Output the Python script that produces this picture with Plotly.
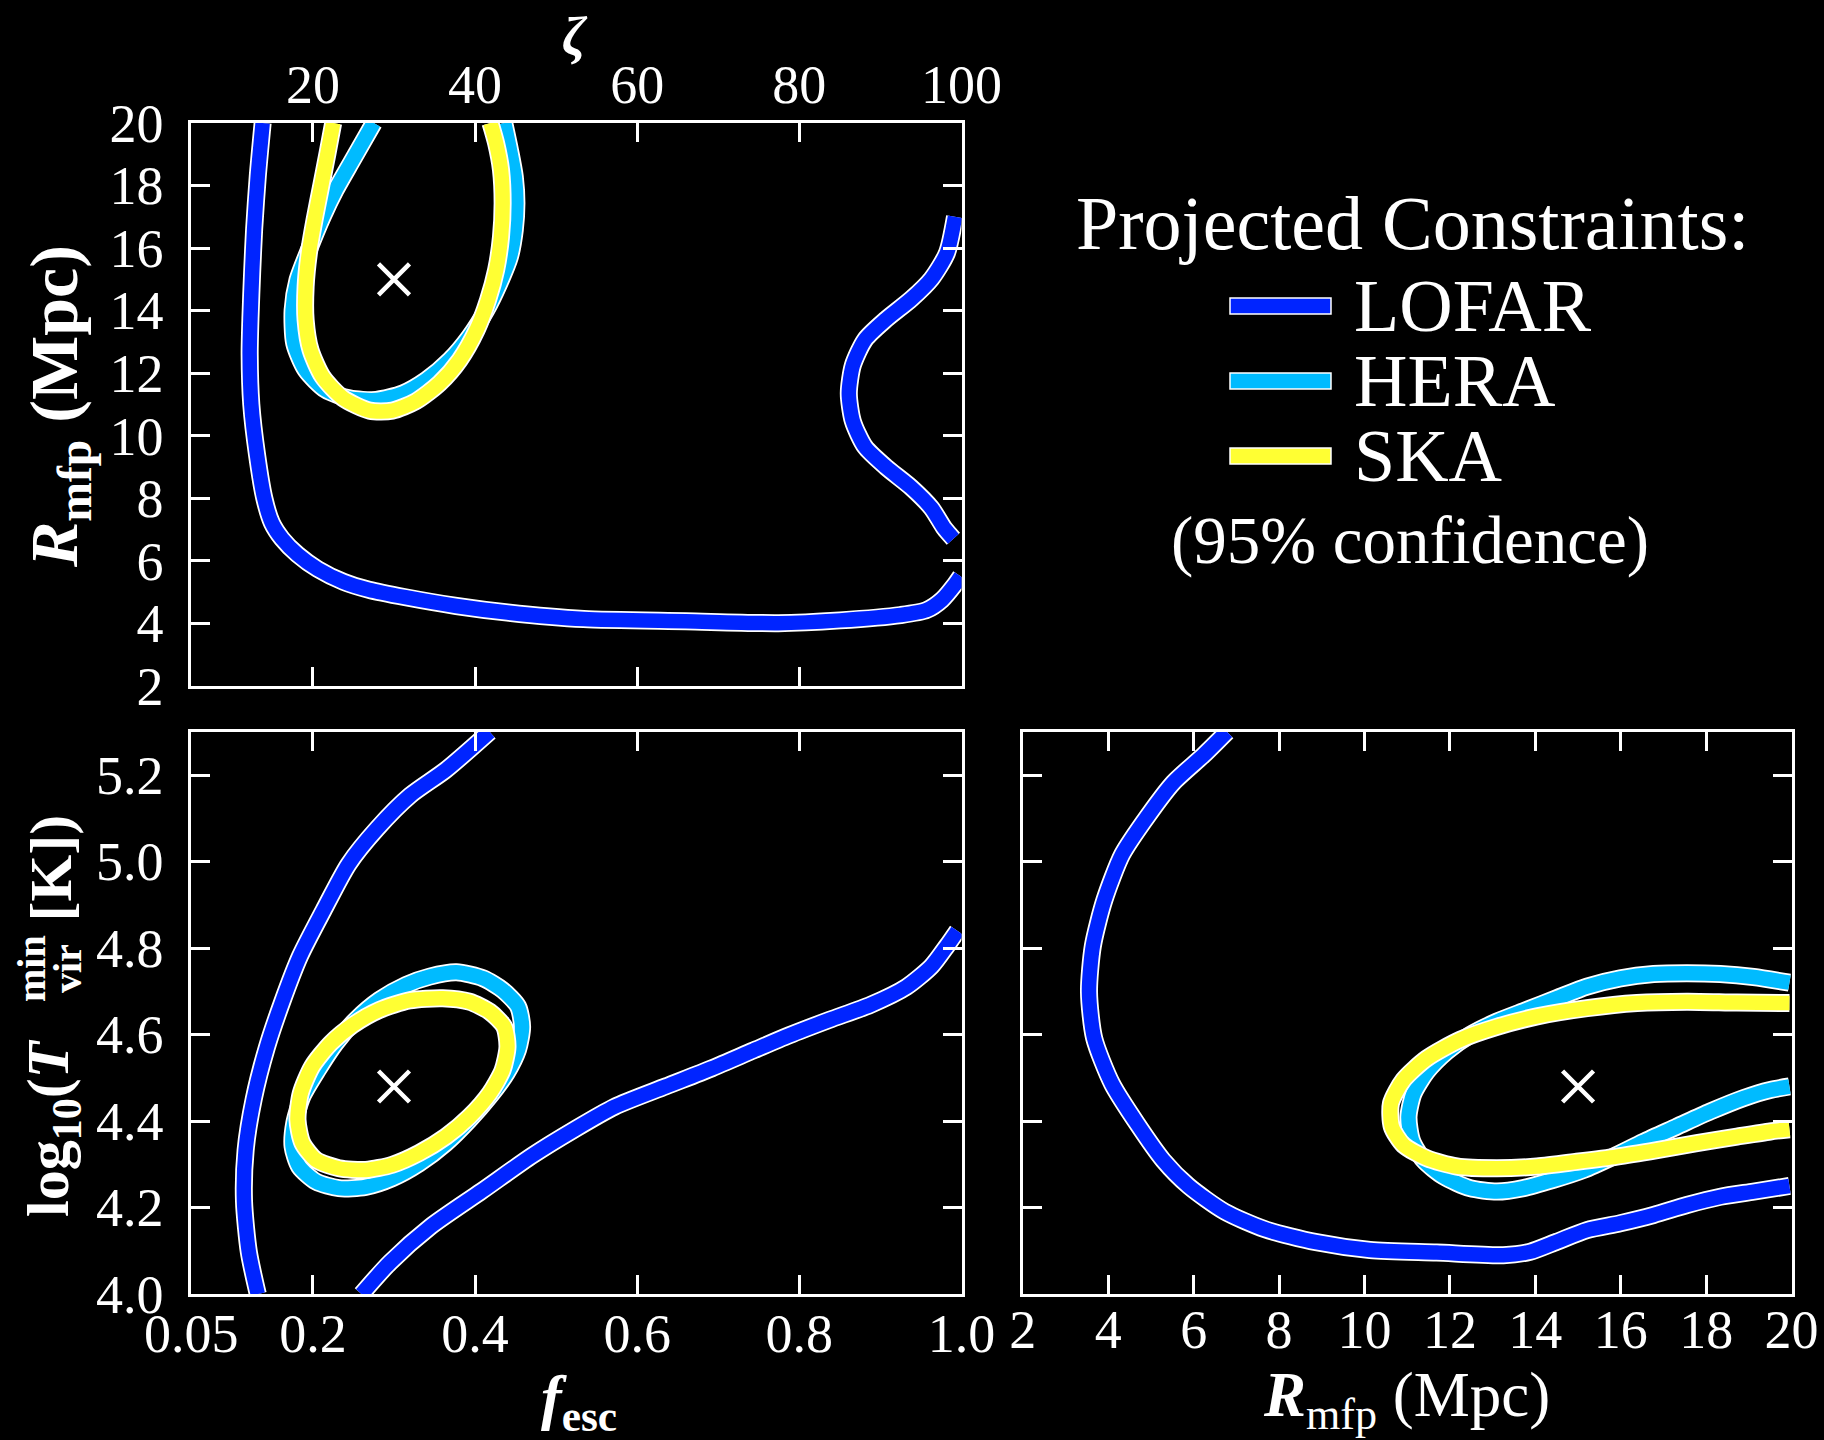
import plotly.graph_objects as go

# ---------------- data ----------------
# Top-left panel: zeta vs R_mfp (Mpc)
lofar_tl1_zeta = [13.8, 13.2, 12.75, 12.5, 12.3, 12.2, 12.4, 13.1, 14.0, 14.95, 16.2, 18.1, 20.6, 23.8, 26.9,
                  31.4, 37.7, 44.0, 53.4, 66.0, 77.4, 85.0, 92.5, 95.7, 97.6, 99.2, 99.9]
lofar_tl1_r = [20.0, 18.3, 16.6, 15.2, 13.8, 12.6, 11.0, 9.4, 8.0, 7.2, 6.7, 6.2, 5.73, 5.32, 5.07,
               4.83, 4.55, 4.34, 4.13, 4.06, 4.0, 4.09, 4.26, 4.42, 4.75, 5.24, 5.5]
lofar_tl2_zeta = [99.2, 98.2, 96.3, 93.8, 90.7, 88.1, 86.6, 86.1, 86.6, 88.1, 90.7, 93.8, 96.3, 97.9, 99.0]
lofar_tl2_r = [17.0, 15.84, 15.02, 14.37, 13.72, 13.07, 12.25, 11.35, 10.46, 9.64, 8.99, 8.34, 7.68, 7.03, 6.7]
hera_tl_zeta = [27.5, 24.9, 22.8, 21.2, 19.5, 18.1, 17.5, 17.7, 19.1, 21.6, 24.5, 27.8, 31.1, 34.0, 36.9,
                39.3, 41.4, 43.0, 44.3, 44.9, 45.1, 44.9, 44.3, 43.6]
hera_tl_r = [20.0, 18.82, 17.86, 17.0, 15.94, 14.98, 14.02, 12.95, 12.10, 11.46, 11.19, 11.14, 11.35, 11.78,
             12.42, 13.16, 14.02, 14.87, 15.72, 16.58, 17.43, 18.28, 19.14, 20.0]
ska_tl_zeta = [22.5, 21.8, 21.0, 20.2, 19.5, 19.1, 19.1, 19.7, 21.2, 23.7, 27.0, 29.8, 32.7, 35.6, 38.1,
               40.2, 41.6, 42.6, 43.2, 43.4, 43.2, 42.6, 41.9]
ska_tl_r = [20.0, 19.03, 17.96, 16.90, 15.83, 14.76, 13.70, 12.74, 11.88, 11.2, 10.8, 10.8, 11.1, 11.67,
            12.42, 13.38, 14.34, 15.30, 16.36, 17.43, 18.50, 19.35, 20.0]

# Bottom-left panel: f_esc vs log10(Tvir)
lofar_bl1_f = [0.132, 0.121, 0.115, 0.117, 0.127, 0.143, 0.162, 0.184, 0.213, 0.244, 0.279, 0.320, 0.364, 0.418]
lofar_bl1_t = [4.0, 4.097, 4.215, 4.333, 4.451, 4.569, 4.675, 4.781, 4.887, 4.994, 5.076, 5.153, 5.212, 5.30]
lofar_bl2_f = [0.26, 0.295, 0.345, 0.408, 0.471, 0.522, 0.572, 0.635, 0.692, 0.743, 0.787, 0.837, 0.888,
               0.932, 0.963, 0.982, 0.995]
lofar_bl2_t = [4.0, 4.073, 4.156, 4.238, 4.321, 4.380, 4.433, 4.480, 4.522, 4.563, 4.598, 4.634, 4.669,
               4.710, 4.758, 4.805, 4.84]
hera_bl_f = [0.377, 0.410, 0.434, 0.453, 0.458, 0.453, 0.439, 0.418, 0.393, 0.364, 0.331, 0.298, 0.265,
             0.232, 0.204, 0.183, 0.175, 0.177, 0.187, 0.206, 0.228, 0.253, 0.282, 0.315, 0.344, 0.377]
hera_bl_t = [4.744, 4.730, 4.703, 4.665, 4.618, 4.565, 4.511, 4.457, 4.403, 4.349, 4.302, 4.268, 4.248,
             4.245, 4.260, 4.295, 4.341, 4.395, 4.457, 4.518, 4.580, 4.634, 4.680, 4.715, 4.734, 4.744]
ska_bl_f = [0.360, 0.393, 0.418, 0.436, 0.440, 0.434, 0.418, 0.393, 0.364, 0.331, 0.298, 0.265, 0.232,
            0.204, 0.187, 0.181, 0.185, 0.199, 0.222, 0.249, 0.282, 0.319, 0.360]
ska_bl_t = [4.684, 4.676, 4.653, 4.618, 4.572, 4.518, 4.464, 4.410, 4.364, 4.326, 4.299, 4.287, 4.291,
            4.310, 4.349, 4.403, 4.464, 4.526, 4.580, 4.622, 4.657, 4.679, 4.684]

# Bottom-right panel: R_mfp vs log10(Tvir)
lofar_br_r = [6.78, 6.24, 5.52, 4.93, 4.33, 3.91, 3.64, 3.55, 3.67, 4.09, 4.69, 5.29, 5.88, 6.72, 7.67, 8.87,
              10.13, 11.69, 13.25, 13.88, 14.50, 15.21, 15.99, 16.77, 17.55, 18.33, 19.11, 19.95]
lofar_br_t = [5.30, 5.247, 5.182, 5.106, 5.017, 4.911, 4.805, 4.699, 4.592, 4.486, 4.392, 4.309, 4.250, 4.191,
              4.150, 4.120, 4.102, 4.096, 4.090, 4.098, 4.121, 4.148, 4.164, 4.183, 4.206, 4.225, 4.237, 4.250]
hera_br_r = [19.95, 19.11, 18.33, 17.55, 16.77, 15.99, 15.21, 14.50, 13.80, 13.10, 12.47, 11.93, 11.46, 11.15,
             11.03, 11.11, 11.38, 11.85, 12.47, 13.10, 13.72, 14.42, 15.13, 15.83, 16.53, 17.31, 18.09, 18.87,
             19.50, 19.95]
hera_br_t = [4.720, 4.733, 4.740, 4.742, 4.740, 4.730, 4.711, 4.684, 4.657, 4.630, 4.599, 4.561, 4.514, 4.464,
             4.410, 4.356, 4.310, 4.272, 4.245, 4.237, 4.245, 4.264, 4.287, 4.318, 4.352, 4.387, 4.422, 4.453,
             4.472, 4.480]
ska_br_r = [19.95, 18.72, 17.55, 16.38, 15.21, 14.04, 13.10, 12.24, 11.46, 10.91, 10.62, 10.64, 10.91, 11.46,
            12.16, 13.10, 14.04, 14.97, 15.91, 16.85, 17.78, 18.72, 19.50, 19.95]
ska_br_t = [4.673, 4.674, 4.676, 4.673, 4.661, 4.642, 4.618, 4.588, 4.545, 4.495, 4.441, 4.387, 4.345, 4.314,
            4.295, 4.291, 4.295, 4.306, 4.318, 4.333, 4.349, 4.364, 4.376, 4.381]

# Fiducial parameter values
fid_zeta = 30
fid_fesc = 0.3
fid_rmfp = 15
fid_logt = 4.48

# Tick labels
zeta_ticks = [20, 40, 60, 80, 100]
rmfp_ticks = [2, 4, 6, 8, 10, 12, 14, 16, 18, 20]
fesc_ticks = [0.05, 0.2, 0.4, 0.6, 0.8, 1.0]
fesc_ticktext = ["0.05", "0.2", "0.4", "0.6", "0.8", "1.0"]
logt_ticks = [4.0, 4.2, 4.4, 4.6, 4.8, 5.0, 5.2]
logt_ticktext = ["4.0", "4.2", "4.4", "4.6", "4.8", "5.0", "5.2"]

experiments = ["LOFAR", "HERA", "SKA"]
colors = {"LOFAR": "#0024FF", "HERA": "#00BBFF", "SKA": "#FFFF33"}

# ---------------- figure ----------------
W, H = 1824, 1440
FONT = "Liberation Serif"
fig = go.Figure()


def add_contour(x, y, color, xa, ya):
    fig.add_trace(go.Scatter(x=x, y=y, mode="lines", xaxis=xa, yaxis=ya,
                             line=dict(color="white", width=18, shape="spline", smoothing=0.7),
                             hoverinfo="skip", showlegend=False))
    fig.add_trace(go.Scatter(x=x, y=y, mode="lines", xaxis=xa, yaxis=ya,
                             line=dict(color=color, width=14.5, shape="spline", smoothing=0.7),
                             hoverinfo="skip", showlegend=False))


# top-left
add_contour(lofar_tl1_zeta, lofar_tl1_r, colors["LOFAR"], "x", "y")
add_contour(lofar_tl2_zeta, lofar_tl2_r, colors["LOFAR"], "x", "y")
add_contour(hera_tl_zeta, hera_tl_r, colors["HERA"], "x", "y")
add_contour(ska_tl_zeta, ska_tl_r, colors["SKA"], "x", "y")
# bottom-left
add_contour(lofar_bl1_f, lofar_bl1_t, colors["LOFAR"], "x2", "y2")
add_contour(lofar_bl2_f, lofar_bl2_t, colors["LOFAR"], "x2", "y2")
add_contour(hera_bl_f, hera_bl_t, colors["HERA"], "x2", "y2")
add_contour(ska_bl_f, ska_bl_t, colors["SKA"], "x2", "y2")
# bottom-right
add_contour(lofar_br_r, lofar_br_t, colors["LOFAR"], "x3", "y3")
add_contour(hera_br_r, hera_br_t, colors["HERA"], "x3", "y3")
add_contour(ska_br_r, ska_br_t, colors["SKA"], "x3", "y3")

cross = dict(symbol="x-thin", size=31, color="white", line=dict(color="white", width=4.5))
fig.add_trace(go.Scatter(x=[fid_zeta], y=[fid_rmfp], mode="markers", marker=cross,
                         xaxis="x", yaxis="y", showlegend=False, hoverinfo="skip"))
fig.add_trace(go.Scatter(x=[fid_fesc], y=[fid_logt], mode="markers", marker=cross,
                         xaxis="x2", yaxis="y2", showlegend=False, hoverinfo="skip"))
fig.add_trace(go.Scatter(x=[fid_rmfp], y=[fid_logt], mode="markers", marker=cross,
                         xaxis="x3", yaxis="y3", showlegend=False, hoverinfo="skip"))


def px(x):
    return x / W


def py(y):
    return 1 - y / H


common = dict(showline=True, linecolor="white", linewidth=3, mirror="ticks", ticks="inside",
              ticklen=19, tickwidth=2.5, tickcolor="white", showgrid=False, zeroline=False,
              automargin=False,
              tickfont=dict(family=FONT, size=54, color="white"), fixedrange=True)

left_dom = [px(191.3), px(961.5)]
right_dom = [px(1022.8), px(1791.6)]
top_dom = [py(685.7), py(123)]
bot_dom = [py(1294.1), py(731.8)]

fig.update_layout(
    template="none",
    width=W, height=H, autosize=False,
    margin=dict(l=0, r=0, t=0, b=0, pad=0, autoexpand=False),
    paper_bgcolor="black", plot_bgcolor="black",
    xaxis=dict(domain=left_dom, range=[5, 100], side="top", tickvals=zeta_ticks, anchor="y",
               ticklabelstandoff=-5, **common),
    yaxis=dict(domain=top_dom, range=[2, 20], tickvals=rmfp_ticks, anchor="x",
               ticklabelstandoff=14, **common),
    xaxis2=dict(domain=left_dom, range=[0.05, 1.0], tickvals=fesc_ticks, ticktext=fesc_ticktext,
                anchor="y2", ticklabelstandoff=-10, **common),
    yaxis2=dict(domain=bot_dom, range=[4.0, 5.3], tickvals=logt_ticks, ticktext=logt_ticktext,
                anchor="x2", ticklabelstandoff=14, **common),
    xaxis3=dict(domain=right_dom, range=[2, 20], tickvals=rmfp_ticks, anchor="y3",
                ticklabelstandoff=-14, **common),
    yaxis3=dict(domain=bot_dom, range=[4.0, 5.3], tickvals=logt_ticks, showticklabels=False,
                anchor="x3", **common),
)

annotations = []


def ann(text, x, y, size, xanchor="center", yanchor="middle", angle=0):
    annotations.append(dict(text=text, x=px(x), y=py(y), xref="paper", yref="paper",
                            xanchor=xanchor, yanchor=yanchor, textangle=angle, showarrow=False,
                            font=dict(family=FONT, size=size, color="white")))


# axis titles
ann("<b><i>ζ</i></b>", 575, 37, 54)
ann("<b><i>R</i><sub>mfp</sub> (Mpc)</b>", 58, 407, 68, angle=-90)
ann("<b><i>f</i><sub>esc</sub></b>", 579, 1401, 62)
ann("<b><i>R</i></b><sub>mfp</sub> (Mpc)", 1406, 1399, 63)
# bottom-left y title built from pieces (stacked super/subscript)
ann("<b>log<sub>10</sub>(<i>T</i></b>", 52, 1219, 60, yanchor="bottom", angle=-90)
ann("<b>min</b>", 31, 969, 40, angle=-90)
ann("<b>vir</b>", 67, 969, 40, angle=-90)
ann("<b>[K])</b>", 50, 813, 60, yanchor="top", angle=-90)

# legend
ann("Projected Constraints:", 1412, 223, 76)
legend_y = {"LOFAR": 306, "HERA": 381, "SKA": 456}
shapes = []
for name in experiments:
    ann(name, 1352, legend_y[name], 74, xanchor="left")
    shapes.append(dict(type="rect", xref="paper", yref="paper",
                       x0=px(1230), x1=px(1331), y0=py(legend_y[name] + 8), y1=py(legend_y[name] - 8),
                       fillcolor=colors[name], line=dict(color="white", width=1.5)))
ann("(95% confidence)", 1410, 540, 67)

fig.update_layout(annotations=annotations, shapes=shapes)

fig.write_html("out.html")
